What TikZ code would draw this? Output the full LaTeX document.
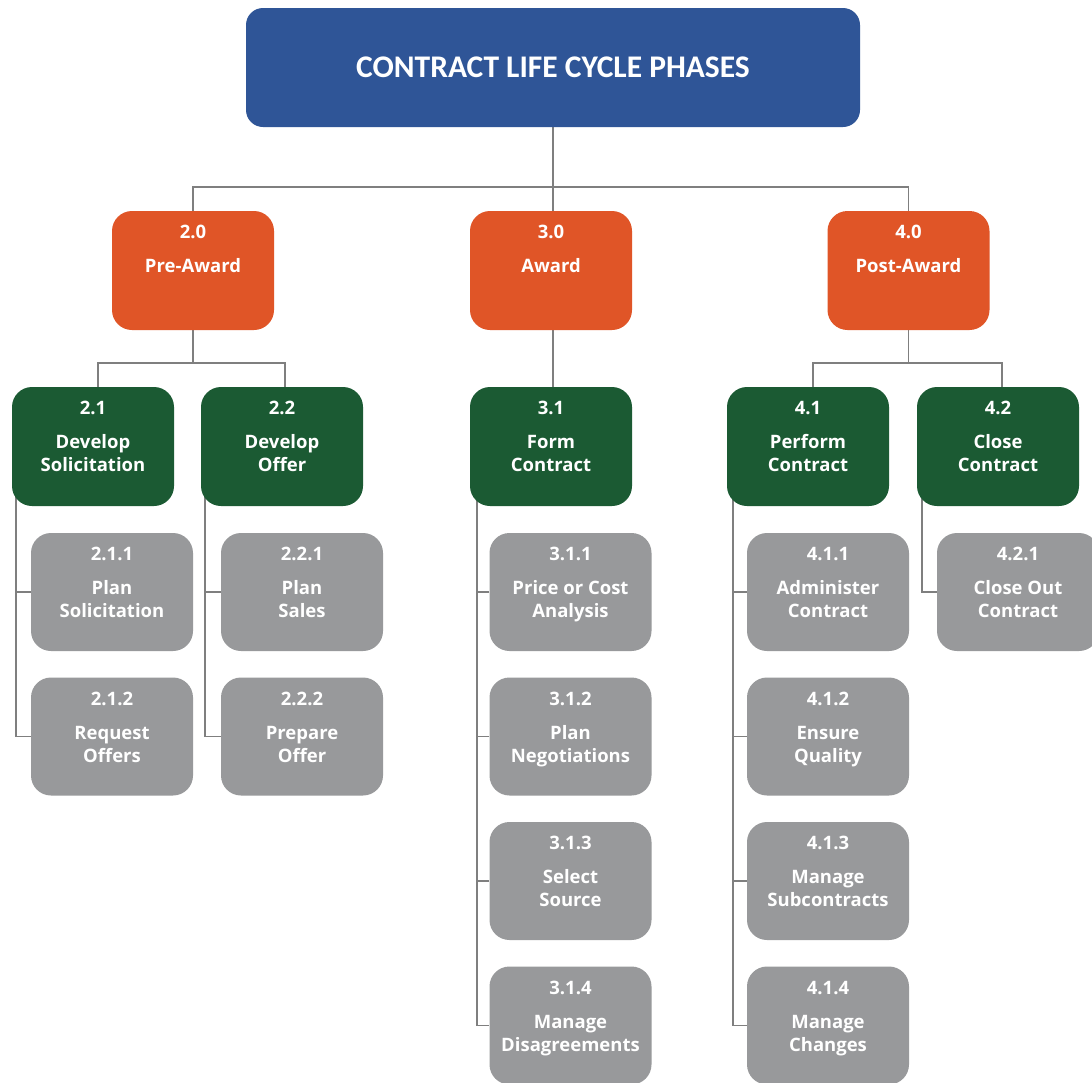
\documentclass[tikz,border=0pt]{standalone}
\usepackage{fontspec}
\setmainfont{Open Sans}
\newfontfamily\titlefont{Carlito}
\usetikzlibrary{calc,backgrounds}
\definecolor{cblue}{HTML}{2F5597}
\definecolor{corange}{HTML}{E05527}
\definecolor{cgreen}{HTML}{1B5A33}
\definecolor{cgray}{HTML}{98999B}
\definecolor{cline}{HTML}{7F7F7F}
\newcommand\mkbox[6]{%
  \node[#2] (#1) at (#3) {};
  \node[lbl, anchor=base] (#1-n) at ($(#1.north)+(0,28)$) {#4};
  \node[lbl, anchor=base] (#1-a) at ($(#1.north)+(0,62)$) {#5};
  \node[lbl, anchor=base] (#1-b) at ($(#1.north)+(0,85)$) {#6};
}
\newcommand\mkphase[5]{%
  \node[#2] (#1) at (#3) {};
  \node[lbl, anchor=base] (#1-n) at ($(#1.north)+(0,28)$) {#4};
  \node[lbl, anchor=base] (#1-a) at ($(#1.north)+(0,62)$) {#5};
}
\begin{document}
\begin{tikzpicture}[x=1pt,y=-1pt,
  box/.style={rectangle, rounded corners=20pt, minimum width=162pt, minimum height=119pt, inner sep=0pt, draw=none},
  obox/.style={box, fill=corange},
  gbox/.style={box, fill=cgreen},
  sbox/.style={box, fill=cgray, minimum height=118pt},
  lbl/.style={text=white, font=\fontsize{18.5}{22}\selectfont\bfseries, inner sep=0pt},
  conn/.style={draw=cline, line width=1.8pt}]
\useasboundingbox (0,0) rectangle (1092,1082);

\node[rectangle, rounded corners=17pt, fill=cblue, minimum width=614pt, minimum height=119pt, inner sep=0pt,
  text=white, font=\titlefont\fontsize{31.5}{36}\selectfont\bfseries] (title) at (553,67.5) {CONTRACT LIFE CYCLE PHASES};

\mkphase{o20}{obox}{193,270.5}{2.0}{Pre-Award}
\mkphase{o30}{obox}{551,270.5}{3.0}{Award}
\mkphase{o40}{obox}{908.5,270.5}{4.0}{Post-Award}

\mkbox{g21}{gbox}{93,446.5}{2.1}{Develop}{Solicitation}
\mkbox{g22}{gbox}{282,446.5}{2.2}{Develop}{Offer}
\mkbox{g31}{gbox}{551,446.5}{3.1}{Form}{Contract}
\mkbox{g41}{gbox}{808,446.5}{4.1}{Perform}{Contract}
\mkbox{g42}{gbox}{998,446.5}{4.2}{Close}{Contract}

\mkbox{s211}{sbox}{112,592}{2.1.1}{Plan}{Solicitation}
\mkbox{s212}{sbox}{112,736.5}{2.1.2}{Request}{Offers}
\mkbox{s221}{sbox}{302,592}{2.2.1}{Plan}{Sales}
\mkbox{s222}{sbox}{302,736.5}{2.2.2}{Prepare}{Offer}
\mkbox{s311}{sbox}{570.5,592}{3.1.1}{Price or Cost}{Analysis}
\mkbox{s312}{sbox}{570.5,736.5}{3.1.2}{Plan}{Negotiations}
\mkbox{s313}{sbox}{570.5,881}{3.1.3}{Select}{Source}
\mkbox{s314}{sbox}{570.5,1025.5}{3.1.4}{Manage}{Disagreements}
\mkbox{s411}{sbox}{828,592}{4.1.1}{Administer}{Contract}
\mkbox{s412}{sbox}{828,736.5}{4.1.2}{Ensure}{Quality}
\mkbox{s413}{sbox}{828,881}{4.1.3}{Manage}{Subcontracts}
\mkbox{s414}{sbox}{828,1025.5}{4.1.4}{Manage}{Changes}
\mkbox{s421}{sbox}{1018,592}{4.2.1}{Close Out}{Contract}

\begin{scope}[on background layer]
  \fill[white] (0,0) rectangle (1092,1082);
  % level 1
  \coordinate (j0) at ($(o20.north)+(0,-24)$);
  \draw[conn] (o20.north) -- (j0) -| (o40.north);
  \draw[conn] (title.south) -- (title.south |- o30.north);
  % 2.0 branch
  \coordinate (j2) at ($(o20.south)+(0,33)$);
  \draw[conn] (o20.south) -- (j2);
  \draw[conn] ($(g21.north)+(5,0)$) |- (j2) -| ($(g22.north)+(3,0)$);
  % 3.0 branch
  \draw[conn] (title.south |- o30.south) -- (title.south |- g31.north);
  % 4.0 branch
  \coordinate (j4) at ($(o40.south)+(0,33)$);
  \draw[conn] (o40.south) -- (j4);
  \draw[conn] ($(g41.north)+(5,0)$) |- (j4) -| ($(g42.north)+(4,0)$);
  % side trunks
  \coordinate (t21) at ($(g21.south west)+(4,0)$);
  \draw[conn] ($(t21)+(0,-30)$) |- (s212.west);
  \draw[conn] (s211.west) -- (s211.west -| t21);
  \coordinate (t22) at ($(g22.south west)+(4,0)$);
  \draw[conn] ($(t22)+(0,-30)$) |- (s222.west);
  \draw[conn] (s221.west) -- (s221.west -| t22);
  \coordinate (t31) at ($(g31.south west)+(7,0)$);
  \draw[conn] ($(t31)+(0,-30)$) |- (s314.west);
  \draw[conn] (s311.west) -- (s311.west -| t31);
  \draw[conn] (s312.west) -- (s312.west -| t31);
  \draw[conn] (s313.west) -- (s313.west -| t31);
  \coordinate (t41) at ($(g41.south west)+(6,0)$);
  \draw[conn] ($(t41)+(0,-30)$) |- (s414.west);
  \draw[conn] (s411.west) -- (s411.west -| t41);
  \draw[conn] (s412.west) -- (s412.west -| t41);
  \draw[conn] (s413.west) -- (s413.west -| t41);
  \coordinate (t42) at ($(g42.south west)+(5,0)$);
  \draw[conn] ($(t42)+(0,-30)$) |- (s421.west);
\end{scope}
\end{tikzpicture}
\end{document}
